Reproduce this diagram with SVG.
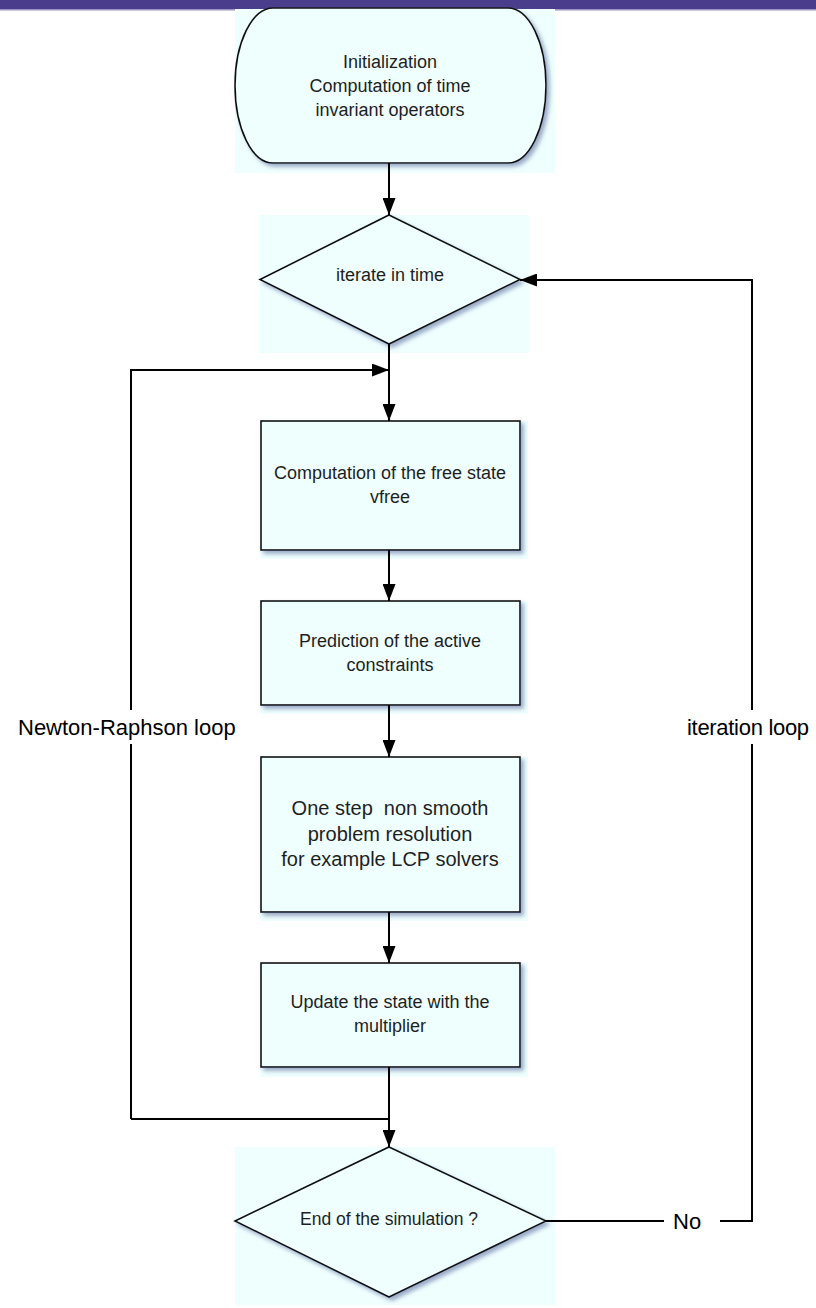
<svg xmlns="http://www.w3.org/2000/svg" width="816" height="1308" viewBox="0 0 816 1308">
<style>
.bg{fill:#effffe;stroke:none}
.shape{fill:#effffe;stroke:#111;stroke-width:1.6;filter:url(#sh)}
.t{font-family:"Liberation Sans",Arial,sans-serif;font-size:18px;fill:#1e1e1e;text-anchor:middle;white-space:pre}
.big{font-size:20px}
.lbl{font-family:"Liberation Sans",Arial,sans-serif;font-size:22px;fill:#000}
.c{fill:none;stroke:#000;stroke-width:2}
</style>
<defs>
<filter id="sh" x="-10%" y="-10%" width="125%" height="125%">
<feDropShadow dx="3" dy="3" stdDeviation="2" flood-color="#6a7aa8" flood-opacity="0.65"/>
</filter>
<marker id="ah" markerUnits="userSpaceOnUse" markerWidth="18" markerHeight="13" refX="17" refY="6.5" orient="auto">
<path d="M0,0 L17,6.5 L0,13 Z" fill="#000"/>
</marker>
</defs>
<rect x="0" y="0" width="816" height="1308" fill="#fff"/>
<rect x="0" y="0" width="816" height="9" fill="#4a3d8b"/>
<rect x="0" y="9" width="816" height="1.5" fill="#9c94c4"/>

<g id="init">
<rect class="bg" x="235" y="9" width="320" height="164"/>
<path class="shape" d="M273,8 H508 A38,77.5 0 0 1 508,163 H273 A38,77.5 0 0 1 273,8 Z"/>
<text class="t" x="390" y="68">Initialization</text>
<text class="t" x="390" y="92">Computation of time</text>
<text class="t" x="390" y="116">invariant operators</text>
</g>

<g id="iterate">
<rect class="bg" x="260" y="215" width="269" height="138"/>
<path class="shape" d="M389,215 L520,279.5 L389,344 L260,279.5 Z"/>
<text class="t" x="390" y="281">iterate in time</text>
</g>

<g id="free-state">
<rect class="bg" x="260" y="421" width="268" height="138"/>
<rect class="shape" x="261" y="421" width="259" height="129"/>
<text class="t" x="390" y="479">Computation of the free state</text>
<text class="t" x="390" y="503">vfree</text>
</g>

<g id="prediction">
<rect class="bg" x="260" y="601" width="268" height="113"/>
<rect class="shape" x="261" y="601" width="259" height="104"/>
<text class="t" x="390" y="647">Prediction of the active</text>
<text class="t" x="390" y="671">constraints</text>
</g>

<g id="one-step">
<rect class="bg" x="260" y="757" width="268" height="164"/>
<rect class="shape" x="261" y="757" width="259" height="155"/>
<text class="t big" x="390" y="815" xml:space="preserve">One step  non smooth</text>
<text class="t big" x="390" y="841">problem resolution</text>
<text class="t big" x="390" y="866">for example LCP solvers</text>
</g>

<g id="update">
<rect class="bg" x="260" y="963" width="268" height="114"/>
<rect class="shape" x="261" y="963" width="259" height="104"/>
<text class="t" x="390" y="1008">Update the state with the</text>
<text class="t" x="390" y="1032">multiplier</text>
</g>

<g id="end">
<rect class="bg" x="235" y="1147" width="320" height="158"/>
<path class="shape" d="M389,1147 L546,1221 L389,1297 L235,1221 Z"/>
<text class="t" x="389" y="1225" style="font-size:17.5px">End of the simulation ?</text>
</g>

<g id="connectors">
<path class="c" d="M389,163 V215" marker-end="url(#ah)"/>
<path class="c" d="M389,344 V421" marker-end="url(#ah)"/>
<path class="c" d="M131,1119 V370 H389" marker-end="url(#ah)"/>
<path class="c" d="M389,550 V601" marker-end="url(#ah)"/>
<path class="c" d="M389,705 V757" marker-end="url(#ah)"/>
<path class="c" d="M389,912 V963" marker-end="url(#ah)"/>
<path class="c" d="M389,1067 V1147" marker-end="url(#ah)"/>
<path class="c" d="M131,1119 H389"/>
<path class="c" d="M546,1221 H664"/>
<path class="c" d="M720,1221 H752 V280 H520" marker-end="url(#ah)"/>
<rect x="14" y="710" width="224" height="34" fill="#fff"/>
<text class="lbl" x="18" y="735">Newton-Raphson loop</text>
<rect x="684" y="710" width="128" height="34" fill="#fff"/>
<text class="lbl" x="687" y="735" font-size="21px" letter-spacing="-0.3">iteration loop</text>
<text class="lbl" x="673" y="1229">No</text>
</g>
</svg>
